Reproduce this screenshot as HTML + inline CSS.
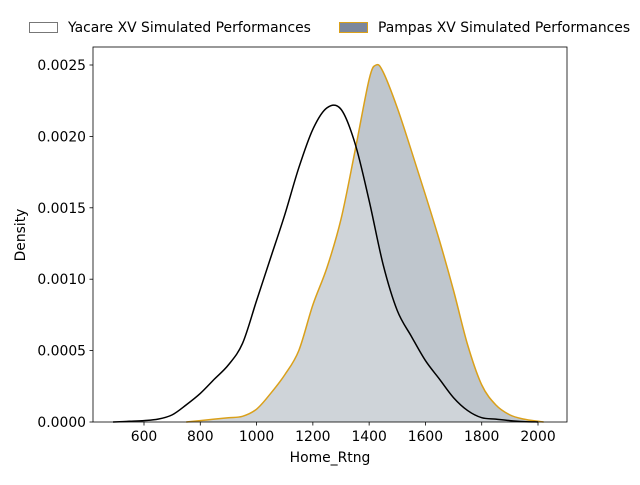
<!DOCTYPE html>
<html><head><meta charset="utf-8"><style>
body{margin:0;background:#fff;font-family:"Liberation Sans","DejaVu Sans",sans-serif}
svg text{font-family:"DejaVu Sans","Liberation Sans",sans-serif;font-size:13.9px}
</style></head><body>
<svg id="c" width="640" height="480" xmlns="http://www.w3.org/2000/svg"></svg>
<script>
const xTicks=[600,800,1000,1200,1400,1600,1800,2000];
const yTicks=[0,0.0005,0.0010,0.0015,0.0020,0.0025];
const yTickLabels=["0.0000","0.0005","0.0010","0.0015","0.0020","0.0025"];
const yacareX=[490,550,600,650,700,750,800,850,900,950,1000,1050,1100,1150,1200,1250,1300,1350,1400,1450,1500,1550,1600,1650,1700,1750,1800,1850,1900,1950,2000];
const yacareY=[0,0.000005,0.00001,0.00002,0.00005,0.00012,0.0002,0.0003,0.0004,0.00055,0.00085,0.00115,0.00145,0.00178,0.00205,0.0022,0.00219,0.00195,0.00155,0.0011,0.00078,0.0006,0.00043,0.0003,0.00017,0.00008,0.00003,0.00002,0.00001,0.000003,0];
const pampasX=[750,800,850,900,950,1000,1050,1100,1150,1200,1250,1300,1350,1400,1425,1450,1500,1550,1600,1650,1700,1750,1800,1850,1900,1950,2000,2020];
const pampasY=[0,0.00001,0.00002,0.00003,0.00004,0.00009,0.0002,0.00033,0.0005,0.00082,0.00108,0.00142,0.0019,0.0024,0.0025,0.00245,0.0022,0.0019,0.00159,0.00127,0.00092,0.00054,0.00026,0.00012,0.00005,0.00002,0.000005,0];
const L=93,R=567,T=47,B=422;
const sx=v=>144+(v-600)*394/1400;
const sy=v=>B-v*357/0.0025;
const svg=document.getElementById('c');const NS='http://www.w3.org/2000/svg';
function mk(t,a,p){const e=document.createElementNS(NS,t);for(const k in a)e.setAttribute(k,a[k]);(p||svg).appendChild(e);return e;}
function path(xs,ys){const p=xs.map((x,i)=>[sx(x),sy(ys[i])]);let d=`M${p[0][0]},${p[0][1]}`;
for(let i=0;i<p.length-1;i++){const p0=p[i-1]||p[i],p1=p[i],p2=p[i+1],p3=p[i+2]||p2;
d+=` C${p1[0]+(p2[0]-p0[0])/6},${p1[1]+(p2[1]-p0[1])/6} ${p2[0]-(p3[0]-p1[0])/6},${p2[1]-(p3[1]-p1[1])/6} ${p2[0]},${p2[1]}`;}return d;}
const pd=path(pampasX,pampasY),yd=path(yacareX,yacareY);
let e;
e=mk('path',{d:pd+` L${sx(pampasX[pampasX.length-1])},${B} L${sx(pampasX[0])},${B}Z`,fill:'#708090','fill-opacity':0.45});

e=mk('path',{d:yd+` L${sx(yacareX[yacareX.length-1])},${B} L${sx(yacareX[0])},${B}Z`,fill:'#fff','fill-opacity':0.25});

e=mk('path',{d:pd,fill:'none',stroke:'#daa01a','stroke-width':1.5});

e=mk('path',{d:yd,fill:'none',stroke:'#000','stroke-width':1.5});

e=mk('rect',{x:L,y:T,width:R-L,height:B-T,fill:'none',stroke:'#000','stroke-width':0.8});

xTicks.forEach(v=>{const x=sx(v);mk('line',{x1:x,x2:x,y1:B,y2:B+3.5,stroke:'#000','stroke-width':0.8});
const t=mk('text',{x:x,y:B+19,'text-anchor':'middle'});t.textContent=v;
});
yTicks.forEach((v,i)=>{const y=sy(v);mk('line',{x1:L-3.5,x2:L,y1:y,y2:y,stroke:'#000','stroke-width':0.8});
const t=mk('text',{x:L-7,y:y+5,'text-anchor':'end'});t.textContent=yTickLabels[i];
});
e=mk('text',{x:330,y:462,'text-anchor':'middle'});e.textContent='Home_Rtng';

e=mk('text',{x:25,y:235,'text-anchor':'middle',transform:'rotate(-90 25 235)'});e.textContent='Density';

const g=mk('g',{});
mk('rect',{x:29.5,y:22.5,width:28,height:10,fill:'#fff',stroke:'#777'},g);
e=mk('text',{x:68,y:32},g);e.textContent='Yacare XV Simulated Performances';

mk('rect',{x:339.5,y:22.5,width:28,height:10,fill:'#7c879c',stroke:'#daa01a'},g);
e=mk('text',{x:378,y:32},g);e.textContent='Pampas XV Simulated Performances';

</script>
</body></html>
